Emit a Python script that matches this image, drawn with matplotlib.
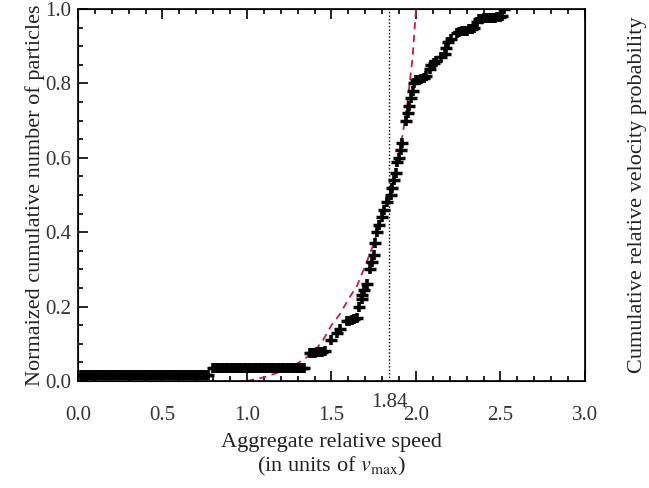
import matplotlib
matplotlib.use("Agg")
import matplotlib.pyplot as plt
from matplotlib.ticker import MultipleLocator
import matplotlib.transforms as mtransforms

plt.rcParams['font.family'] = ['Liberation Serif', 'DejaVu Serif']
plt.rcParams['mathtext.fontset'] = 'stix'

# ---- data ----
band1_x = [0.02, 0.035, 0.05, 0.065, 0.08, 0.095, 0.11, 0.125, 0.14, 0.155, 0.17, 0.185,
           0.20, 0.215, 0.23, 0.245, 0.26, 0.275, 0.29, 0.305, 0.32, 0.335, 0.35, 0.365,
           0.38, 0.395, 0.41, 0.425, 0.44, 0.455, 0.47, 0.485, 0.50, 0.515, 0.53, 0.545,
           0.56, 0.575, 0.59, 0.605, 0.62, 0.635, 0.65, 0.665, 0.68, 0.695, 0.71, 0.725,
           0.74, 0.755, 0.77]
band1_y = 0.016
band2_x = [0.80, 0.815, 0.83, 0.845, 0.86, 0.875, 0.89, 0.905, 0.92, 0.935, 0.95, 0.965,
           0.98, 0.995, 1.01, 1.025, 1.04, 1.055, 1.07, 1.085, 1.10, 1.115, 1.13, 1.145,
           1.16, 1.175, 1.19, 1.205, 1.22, 1.235, 1.25, 1.265, 1.28, 1.295, 1.31, 1.325,
           1.34]
band2_y = 0.035
rise_x = [1.37, 1.385, 1.40, 1.415, 1.43, 1.445, 1.46, 1.50, 1.53, 1.55, 1.59, 1.605,
          1.62, 1.635, 1.65, 1.66, 1.68, 1.68, 1.69, 1.71, 1.73, 1.74, 1.75, 1.76, 1.77,
          1.78, 1.80, 1.81, 1.83, 1.85, 1.86, 1.87, 1.88, 1.89, 1.90, 1.91, 1.92, 1.94,
          1.95, 1.96, 1.97, 1.98, 1.99, 2.00, 2.015, 2.03, 2.045, 2.06, 2.08, 2.09, 2.105,
          2.12, 2.15, 2.17, 2.18, 2.19, 2.21, 2.24, 2.255, 2.27, 2.285, 2.30, 2.315, 2.33,
          2.345, 2.36, 2.375, 2.39, 2.405, 2.42, 2.435, 2.45, 2.465, 2.48, 2.495, 2.51, 2.52]
rise_y = [0.075, 0.075, 0.076, 0.077, 0.078, 0.079, 0.08, 0.11, 0.13, 0.14, 0.16, 0.162,
          0.165, 0.167, 0.17, 0.20, 0.22, 0.23, 0.245, 0.26, 0.30, 0.32, 0.34, 0.37, 0.40,
          0.42, 0.44, 0.46, 0.48, 0.50, 0.52, 0.54, 0.56, 0.59, 0.60, 0.62, 0.64, 0.70,
          0.72, 0.74, 0.76, 0.78, 0.80, 0.81, 0.81, 0.812, 0.815, 0.82, 0.84, 0.85, 0.855,
          0.86, 0.87, 0.88, 0.895, 0.91, 0.92, 0.935, 0.937, 0.94, 0.94, 0.942, 0.945, 0.947,
          0.95, 0.965, 0.972, 0.974, 0.975, 0.975, 0.975, 0.976, 0.977, 0.978, 0.979, 0.98, 1.0]

curve_x = [1.00, 1.10, 1.20, 1.27, 1.33, 1.40, 1.45, 1.50, 1.55, 1.60, 1.65, 1.70, 1.75,
           1.80, 1.84, 1.88, 1.92, 1.95, 1.98, 2.00, 2.02]
curve_y = [0.00, 0.01, 0.025, 0.04, 0.056, 0.08, 0.11, 0.15, 0.18, 0.22, 0.255, 0.31, 0.37,
           0.44, 0.50, 0.57, 0.66, 0.75, 0.87, 1.00, 1.12]

vline_x = 1.84
xticks = [0.0, 0.5, 1.0, 1.5, 2.0, 2.5, 3.0]
yticks = [0.0, 0.2, 0.4, 0.6, 0.8, 1.0]

pts_x = band1_x + band2_x + rise_x
pts_y = [band1_y] * len(band1_x) + [band2_y] * len(band2_x) + rise_y

fig = plt.figure(figsize=(6.49, 4.88), dpi=100)
ax = fig.add_axes([78 / 649, 1 - 381 / 488, (585 - 78) / 649, (381 - 9) / 488])

ax.plot(curve_x, curve_y, linestyle=(0, (4, 3)), color='#c41e46', lw=1.3, zorder=2)
ax.axvline(vline_x, color='black', linestyle=(0, (1, 1.5)), lw=1.0, zorder=1)
ax.plot(pts_x, pts_y, linestyle='none', marker='_', ms=8.5, mew=2.5, color='black', zorder=3)
ax.plot(pts_x, pts_y, linestyle='none', marker='|', ms=7, mew=2.6, color='black', zorder=3)

ax.set_xlim(0, 3)
ax.set_ylim(0, 1)
ax.set_xticks(xticks)
ax.set_xticklabels([f"{v:.1f}" for v in xticks])
ax.set_yticks(yticks)
ax.set_yticklabels([f"{v:.1f}" for v in yticks])
ax.xaxis.set_minor_locator(MultipleLocator(0.1))
ax.yaxis.set_minor_locator(MultipleLocator(0.05))
ax.tick_params(which='both', direction='in', top=True, right=True, width=1.2,
               labelsize=15, labelcolor='#333333')
ax.tick_params(which='major', length=7)
ax.tick_params(which='minor', length=3.5)
ax.tick_params(axis='x', pad=18)
ax.tick_params(axis='y', pad=5, labelright=True)
for s in ax.spines.values():
    s.set_linewidth(1.2)

ax.set_ylabel("Normaized cumulative number of particles", fontsize=16, color='#222222', labelpad=0)
ax.set_xlabel("Aggregate relative speed\n(in units of $\\mathit{v}_{\\rm max}$)", fontsize=16,
              color='#222222', labelpad=6, linespacing=1.15)

ax2 = ax.twinx()
ax2.set_ylim(0, 1)
ax2.set_yticks([])
ax2.set_ylabel("Cumulative relative velocity probability", fontsize=16, color='#222222',
               labelpad=31)

trans = mtransforms.blended_transform_factory(ax.transData, ax.transAxes)
ax.text(vline_x, -0.059, "1.84", transform=trans, ha='center', va='center',
        fontsize=15, color='#333333')

fig.savefig("out.png", dpi=100)
